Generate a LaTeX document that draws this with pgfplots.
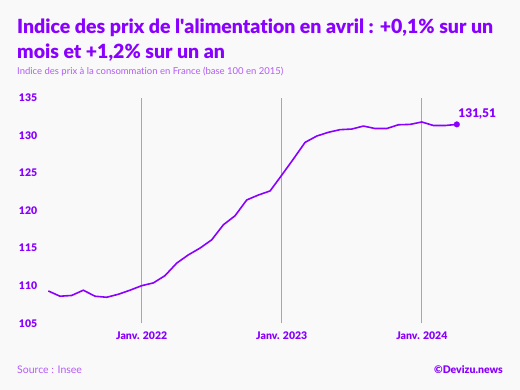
\documentclass[border=0pt]{standalone}
\usepackage{pgfplots}
\pgfplotsset{compat=1.18}
\usepackage{fontspec}
\setmainfont{Lato}[Ligatures={NoCommon}]
\newfontfamily\heavy{Lato Black}[Ligatures={NoCommon}]
\definecolor{bgc}{HTML}{F9F9F9}
\definecolor{vio}{HTML}{8A00FF}
\definecolor{lvio}{HTML}{B45CF5}
\definecolor{gvio}{HTML}{BF8CF7}
\begin{document}
\begin{tikzpicture}
\fill[bgc] (0pt,0pt) rectangle (520pt,390pt);
\node[anchor=base west, inner sep=0, text=vio, font=\heavy\fontsize{19.5}{22}\selectfont] at (17pt,356pt) {Indice des prix de l\textquotesingle alimentation en avril : +0,1\% sur un};
\node[anchor=base west, inner sep=0, text=vio, font=\heavy\fontsize{19.5}{22}\selectfont] at (17pt,331pt) {mois et +1,2\% sur un an};
\node[anchor=base west, inner sep=0, text=lvio, font=\fontsize{9.5}{11}\selectfont] at (17pt,315pt) {Indice des prix à la consommation en France (base 100 en 2015)};
\node[anchor=west, inner sep=0, text=lvio, font=\fontsize{10.5}{12}\selectfont] at (17pt,20pt) {Source : Insee};
\node[anchor=east, inner sep=0, text=vio, font=\heavy\fontsize{10.5}{12}\selectfont] at (503pt,20pt) {©Devizu.news};
\begin{axis}[
  at={(44.8pt,66.7pt)}, anchor=south west,
  scale only axis, width=423.7pt, height=225.6pt,
  xmin=-8.3, xmax=28, ymin=105, ymax=135,
  clip=false,
  axis line style={draw=none},
  major tick length=0pt,
  xtick={0,12,24},
  xticklabels={Janv. 2022,Janv. 2023,Janv. 2024},
  ytick={105,110,115,120,125,130,135},
  /pgf/number format/assume math mode=true,
  ticklabel style={font=\heavy\fontsize{10.5}{12}\selectfont, text=vio},
  yticklabel style={xshift=-4pt},
  xticklabel style={yshift=-5pt},
]
\addplot[gvio, line width=1.3pt, forget plot] coordinates {(0,105) (0,135)};
\addplot[gvio, line width=1.3pt, forget plot] coordinates {(12,105) (12,135)};
\addplot[gvio, line width=1.3pt, forget plot] coordinates {(24,105) (24,135)};
\addplot[vio, line width=1.6pt, line join=round] coordinates {
(-8,109.3) (-7,108.6) (-6,108.7) (-5,109.4) (-4,108.6) (-3,108.46) (-2,108.86) (-1,109.4)
(0,110.0) (1,110.37) (2,111.34) (3,113.0) (4,114.1) (5,115.0) (6,116.1) (7,118.1) (8,119.3) (9,121.4) (10,122.06) (11,122.6)
(12,124.7) (13,126.85) (14,129.06) (15,129.9) (16,130.4) (17,130.75) (18,130.83) (19,131.23) (20,130.9) (21,130.9) (22,131.4) (23,131.45)
(24,131.77) (25,131.3) (26,131.3) (27,131.45)
};
\addplot[vio, only marks, mark=*, mark size=2.8pt, nodes near coords={131,51}, nodes near coords style={anchor=south west, xshift=-2pt, yshift=2pt, font=\heavy\fontsize{12}{14}\selectfont, text=vio}] coordinates {(27,131.45)};
\end{axis}
\end{tikzpicture}
\end{document}
